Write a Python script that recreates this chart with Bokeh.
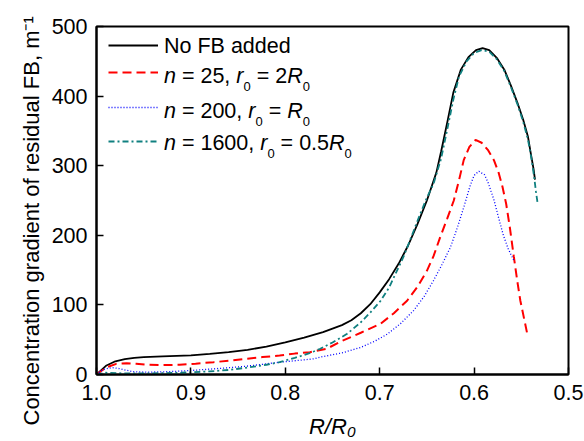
from bokeh.plotting import figure
from bokeh.models import (Range1d, FixedTicker, NumeralTickFormatter, Label,
                          Legend, LegendItem, Title)
from bokeh.embed import file_html
from bokeh.resources import INLINE

# ---------------- data ----------------
x_black = [1.000, 0.990, 0.980, 0.970, 0.960, 0.950, 0.930, 0.900, 0.880, 0.860,
           0.840, 0.820, 0.800, 0.780, 0.760, 0.750, 0.740, 0.730, 0.720, 0.710,
           0.700, 0.690, 0.680, 0.670, 0.660, 0.650, 0.640, 0.635, 0.628, 0.622,
           0.614, 0.606, 0.598, 0.591, 0.584, 0.576, 0.568, 0.561, 0.554, 0.548,
           0.543, 0.540, 0.537, 0.5355]
y_black = [0, 12.5, 19, 22, 24, 25, 26, 27.5, 29.5, 32,
           35.5, 40, 46, 53, 61, 66, 71, 78, 88, 101,
           118, 137, 159, 185, 216, 250, 290, 320, 365, 405,
           438, 456, 466, 469, 466, 455, 438, 415, 390, 366,
           342, 318, 295, 280]

x_red = [1.000, 0.995, 0.989, 0.979, 0.968, 0.958, 0.947, 0.930, 0.912, 0.895,
         0.876, 0.858, 0.841, 0.824, 0.806, 0.790, 0.774, 0.756, 0.742, 0.720,
         0.699, 0.685, 0.671, 0.660, 0.650, 0.643, 0.636, 0.6285, 0.6215, 0.616,
         0.611, 0.605, 0.5985, 0.592, 0.585, 0.579, 0.574, 0.570, 0.566, 0.562,
         0.558, 0.554, 0.551, 0.547, 0.543]
y_red = [0, 5, 10.5, 15.3, 16, 15.3, 14, 13.5, 14, 15.5,
         17.7, 20, 22.5, 25, 27.3, 30, 32, 37, 47, 60,
         73, 88, 106, 126, 149, 170, 197, 224, 250, 279,
         308, 327, 337, 333, 322, 308, 290, 270, 245, 210,
         170, 132, 106, 80, 54]

x_blue = [1.000, 0.993, 0.984, 0.976, 0.968, 0.961, 0.947, 0.930, 0.912, 0.894,
          0.876, 0.858, 0.841, 0.824, 0.806, 0.788, 0.770, 0.763, 0.740, 0.720,
          0.705, 0.692, 0.678, 0.664, 0.653, 0.643, 0.634, 0.625, 0.618, 0.611,
          0.604, 0.600, 0.595, 0.589, 0.585, 0.579, 0.574, 0.569, 0.564, 0.558]
y_blue = [0, 7, 10, 8.5, 6, 4, 3.4, 3.8, 4.8, 6.3,
          8.1, 10, 12, 14.7, 17.7, 20, 22.5, 25, 31, 39,
          48, 58, 73, 92, 112, 135, 158, 183, 210, 240,
          272, 286, 292, 287, 275, 251, 225, 200, 181, 164]

x_teal = [1.000, 0.990, 0.970, 0.950, 0.930, 0.910, 0.880, 0.860, 0.840, 0.820,
          0.806, 0.790, 0.780, 0.770, 0.763, 0.750, 0.7345, 0.720, 0.710, 0.699,
          0.690, 0.6745, 0.665, 0.657, 0.650, 0.643, 0.635, 0.628, 0.622, 0.616,
          0.608, 0.600, 0.592, 0.584, 0.576, 0.568, 0.561, 0.554, 0.548, 0.543,
          0.5395, 0.5365, 0.5345, 0.5325]
y_teal = [0, 2.5, 1.5, 1.5, 2, 2.5, 4.5, 6.5, 10, 14,
          17.7, 24, 28, 33, 37, 46, 58.5, 75, 89, 106,
          125, 170, 203, 231, 254, 274, 310, 355, 395, 428,
          450, 462, 466, 464, 453, 436, 413, 388, 363, 338,
          312, 285, 263, 244]

x_ticks = [1.0, 0.9, 0.8, 0.7, 0.6, 0.5]
y_ticks = [0, 100, 200, 300, 400, 500]

legend_rows = [
    [("No FB added", "normal", "n")],
    [("n", "italic", "n"), (" = 25, ", "normal", "n"), ("r", "italic", "n"),
     ("0", "normal", "s"), (" = 2", "normal", "n"), ("R", "italic", "n"), ("0", "normal", "s")],
    [("n", "italic", "n"), (" = 200, ", "normal", "n"), ("r", "italic", "n"),
     ("0", "normal", "s"), (" = ", "normal", "n"), ("R", "italic", "n"), ("0", "normal", "s")],
    [("n", "italic", "n"), (" = 1600, ", "normal", "n"), ("r", "italic", "n"),
     ("0", "normal", "s"), (" = 0.5", "normal", "n"), ("R", "italic", "n"), ("0", "normal", "s")],
]
y_label = "Concentration gradient of residual FB, m\u207b\u00b9"
x_label = "R/R\u2080"

# ---------------- figure ----------------
FONT = "Liberation Sans"
FL, FT, FW, FH = 96, 26, 472, 348      # frame position in the picture (px)
FB = FT + FH

p = figure(frame_width=FW, frame_height=FH,
           x_range=Range1d(1.0, 0.5), y_range=Range1d(0, 500),
           output_backend="svg", toolbar_location=None,
           min_border_left=FL, min_border_right=584 - FL - FW,
           min_border_top=FT, min_border_bottom=441 - FB)
p.background_fill_color = "white"
p.border_fill_color = "white"
p.outline_line_color = "black"
p.outline_line_width = 2
p.xgrid.visible = False
p.ygrid.visible = False

for ax in (p.xaxis[0], p.yaxis[0]):
    ax.axis_line_color = "black"
    ax.axis_line_width = 2
    ax.major_tick_in = 7
    ax.major_tick_out = 0
    ax.major_tick_line_color = "black"
    ax.major_tick_line_width = 1.5
    ax.minor_tick_line_color = None
    ax.major_label_text_font = FONT
    ax.major_label_text_font_size = "21.5px"
    ax.major_label_text_color = "black"

p.xaxis[0].ticker = FixedTicker(ticks=x_ticks)
p.xaxis[0].formatter = NumeralTickFormatter(format="0.0")
p.xaxis[0].major_label_standoff = 10
p.xaxis[0].axis_label = x_label
p.xaxis[0].axis_label_text_font = FONT
p.xaxis[0].axis_label_text_font_size = "22px"
p.xaxis[0].axis_label_text_font_style = "italic"
p.xaxis[0].axis_label_text_color = "black"
p.xaxis[0].axis_label_standoff = 11

p.yaxis[0].ticker = FixedTicker(ticks=y_ticks)
p.yaxis[0].major_label_standoff = 9

# y axis title, placed along the left side
p.add_layout(Title(text=y_label, align="left", offset=-51, standoff=10,
                   text_font=FONT, text_font_size="22px", text_font_style="normal",
                   text_color="black"), "left")

r_black = p.line(x_black, y_black, line_color="black", line_width=1.8)
r_red = p.line(x_red, y_red, line_color="#ff0000", line_width=2, line_dash="9 5")
r_blue = p.line(x_blue, y_blue, line_color="#0000ff", line_width=1.3, line_dash="1 2")
r_teal = p.line(x_teal, y_teal, line_color="#108080", line_width=1.8, line_dash="6 3 2 3")

# ---------------- legend ----------------
line_ys = [45, 72, 107, 141]
text_mid = [45.8, 75.6, 110.6, 142.6]
renderers = [r_black, r_red, r_blue, r_teal]
for r, ly in zip(renderers, line_ys):
    leg = Legend(items=[LegendItem(label=" ", renderers=[r])],
                 location=(108 - FL, FB - ly - 5),
                 glyph_width=50, glyph_height=10, label_height=10, label_width=0,
                 label_text_font_size="1px", label_standoff=0,
                 padding=0, margin=0, spacing=0,
                 border_line_color=None, background_fill_alpha=0)
    p.add_layout(leg)

W = {' ': 278, '=': 584, ',': 278, '.': 278, '/': 278, '-': 333, 'n': 556, 'r': 333,
     'R': 722, 'N': 722, 'o': 556, 'F': 611, 'B': 667, 'a': 556, 'd': 556, 'e': 556}
for d in "0123456789":
    W[d] = 556


def tw(s, size):
    return sum(W.get(c, 556) for c in s) / 1000.0 * size


def rich(pieces, px, pmid, size=21.5, sub_size=13, sub_drop=10):
    x = px
    for text, style, kind in pieces:
        fs = size if kind == "n" else sub_size
        mid = pmid if kind == "n" else pmid + sub_drop
        lead = len(text) - len(text.lstrip(" "))
        s = text.strip(" ")
        if s:
            p.add_layout(Label(x=x + tw(" " * lead, fs) - FL, y=FB - mid,
                               x_units="screen", y_units="screen", text=s,
                               text_font=FONT, text_font_size=f"{fs}px",
                               text_font_style=style, text_color="black",
                               text_align="left", text_baseline="middle"))
        x += tw(text, fs)


for pieces, mid in zip(legend_rows, text_mid):
    rich(pieces, 163.5, mid)

open("out.html", "w").write(file_html(p, INLINE))
